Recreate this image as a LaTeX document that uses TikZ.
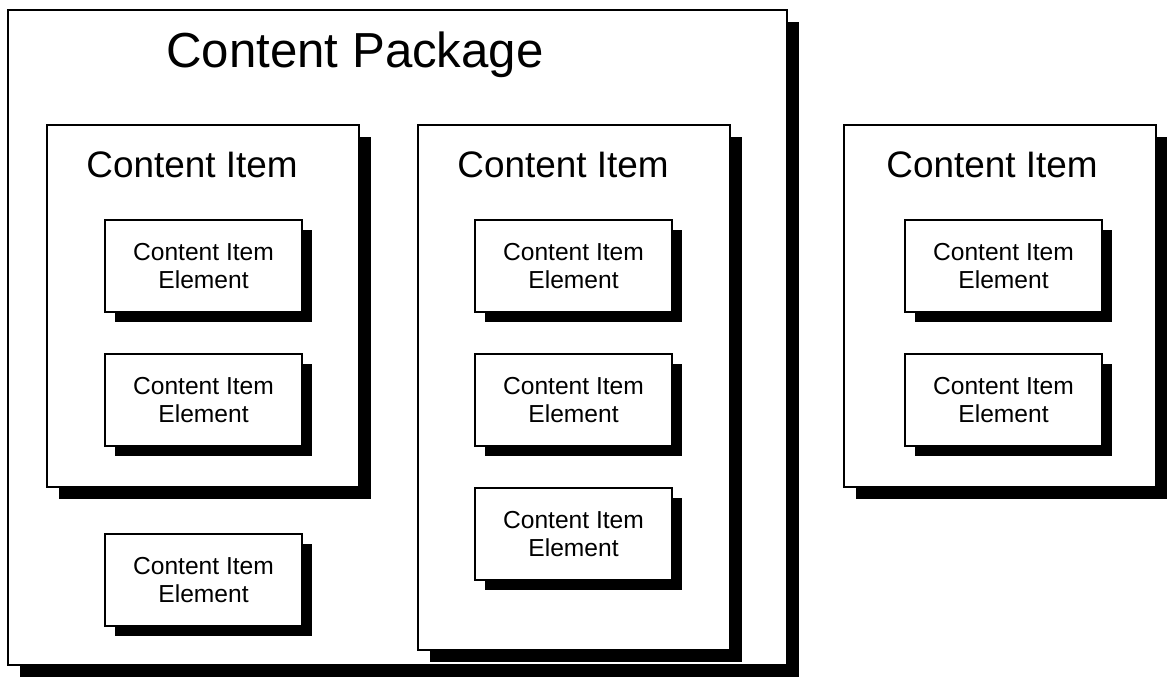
\documentclass[tikz,border=0pt]{standalone}
\usepackage{fontspec}
\setmainfont{Liberation Sans}
\usetikzlibrary{positioning, shadows}

\begin{document}
\begin{tikzpicture}[x=0.02cm, y=0.02cm,
    shade/.style={drop shadow={shadow xshift=0.24cm, shadow yshift=-0.24cm, fill=black, opacity=1}},
    pkg/.style={rectangle, draw=black, line width=1.2pt, fill=white, shade,
                minimum width=15.58cm, minimum height=13.1cm},
    item/.style={rectangle, draw=black, line width=1.2pt, fill=white, shade,
                 minimum width=6.24cm, minimum height=7.24cm},
    elem/.style={rectangle, draw=black, line width=1pt, fill=white,
                 drop shadow={shadow xshift=0.2cm, shadow yshift=-0.2cm, fill=black, opacity=1},
                 minimum width=3.94cm, minimum height=1.84cm, align=center,
                 font=\fontsize{14}{16}\selectfont},
    title/.style={font=\fontsize{21}{24}\selectfont},
  ]
    \useasboundingbox (0,0) rectangle (1167,-680);
    % the package
    \node[pkg] (package) at (397.5,-337.5) {};
    \node[font=\fontsize{28}{32}\selectfont] (packagetitle) at (355,-55) {Content Package};
    % content items
    \node[item] (itemA) at (203,-306) {};
    \node[item, minimum height=10.5cm] (itemB) at (574,-387.5) {};
    \node[item] (itemC) at (1000,-306) {};
    \node[title] (titleA) at (192,-165) {Content Item};
    \node[title] (titleB) at (563,-165) {Content Item};
    \node[title] (titleC) at (992,-165) {Content Item};
    % elements
    \node[elem] (elemA1) at (203.5,-266) {Content Item\\Element};
    \node[elem] (elemA2) at (203.5,-400) {Content Item\\Element};
    \node[elem] (elemP) at (203.5,-580) {Content Item\\Element};
    \node[elem] (elemB1) at (573.5,-266) {Content Item\\Element};
    \node[elem] (elemB2) at (573.5,-400) {Content Item\\Element};
    \node[elem] (elemB3) at (573.5,-534) {Content Item\\Element};
    \node[elem] (elemC1) at (1003.5,-266) {Content Item\\Element};
    \node[elem] (elemC2) at (1003.5,-400) {Content Item\\Element};
\end{tikzpicture}
\end{document}
